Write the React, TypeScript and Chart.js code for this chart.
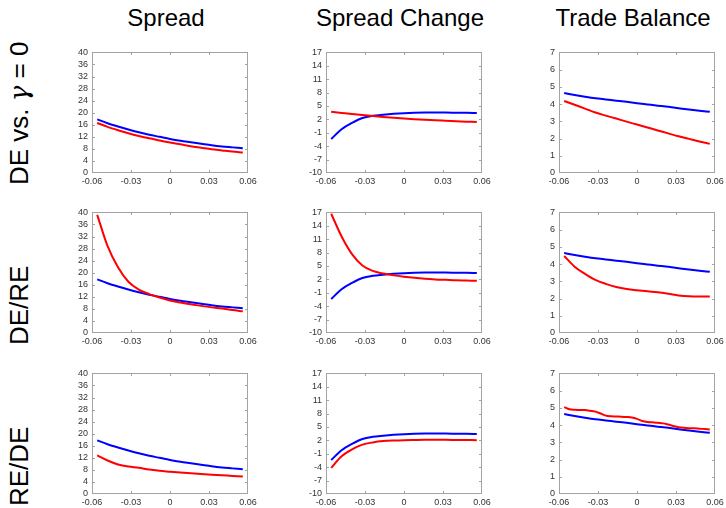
import React, { useEffect, useRef } from "react";
import { Chart, registerables } from "chart.js";

Chart.register(...registerables);

// ---------- data ----------
const colTitles = ["Spread", "Spread Change", "Trade Balance"];
const rowLabels = ["DE vs. ", "DE/RE", "RE/DE"];

const xGrid = [-0.056, -0.048, -0.04, -0.032, -0.024, -0.016, -0.008, 0, 0.008, 0.016, 0.024, 0.032, 0.04, 0.048, 0.056];
const xFine = [
  -0.056, -0.052, -0.048, -0.044, -0.04, -0.036, -0.032, -0.028, -0.024, -0.02, -0.016, -0.012, -0.008, -0.004, 0,
  0.004, 0.008, 0.012, 0.016, 0.02, 0.024, 0.028, 0.032, 0.036, 0.04, 0.044, 0.048, 0.052, 0.056,
];

const xTicks = [-0.06, -0.03, 0, 0.03, 0.06];
const xTickLabels = ["-0.06", "-0.03", "0", "0.03", "0.06"];
const spreadTicks = [0, 4, 8, 12, 16, 20, 24, 28, 32, 36, 40];
const changeTicks = [-10, -7, -4, -1, 2, 5, 8, 11, 14, 17];
const tradeTicks = [0, 1, 2, 3, 4, 5, 6, 7];

// blue (benchmark) series, identical in every row
const blueSpread = [17.8, 16.5, 15.4, 14.4, 13.5, 12.7, 12.0, 11.3, 10.7, 10.2, 9.7, 9.2, 8.8, 8.5, 8.2];
const blueChange = [-2.4, -0.2, 1.2, 2.3, 2.8, 3.05, 3.25, 3.4, 3.5, 3.55, 3.55, 3.53, 3.5, 3.47, 3.43];
const blueTrade = [4.64, 4.53, 4.43, 4.34, 4.27, 4.2, 4.13, 4.05, 3.98, 3.91, 3.84, 3.76, 3.68, 3.61, 3.55];

// red series, row 1: DE vs. gamma = 0
const redSpread1 = [16.6, 15.3, 14.2, 13.2, 12.3, 11.5, 10.8, 10.1, 9.5, 8.9, 8.4, 7.9, 7.5, 7.1, 6.8];
const redChange1 = [3.7, 3.45, 3.2, 2.97, 2.75, 2.55, 2.37, 2.2, 2.05, 1.92, 1.8, 1.7, 1.6, 1.5, 1.4];
const redTrade1 = [4.18, 3.96, 3.74, 3.51, 3.33, 3.16, 2.98, 2.81, 2.64, 2.47, 2.3, 2.13, 1.98, 1.83, 1.69];

// red series, row 2: DE/RE
const redSpread2 = [39.2, 28.8, 21.8, 17.0, 14.4, 12.9, 11.8, 10.8, 10.1, 9.5, 9.0, 8.5, 8.1, 7.6, 7.2];
const redChange2 = [16.7, 11.6, 7.65, 5.1, 3.9, 3.3, 2.9, 2.6, 2.35, 2.15, 2.0, 1.9, 1.8, 1.75, 1.7];
const redTrade2 = [4.47, 3.85, 3.43, 3.08, 2.85, 2.67, 2.55, 2.48, 2.43, 2.36, 2.28, 2.18, 2.13, 2.12, 2.12];

// red series, row 3: RE/DE
const redSpread3 = [12.8, 11.1, 9.8, 9.1, 8.7, 8.1, 7.7, 7.4, 7.1, 6.85, 6.6, 6.4, 6.2, 6.0, 5.8];
const redChange3 = [-4.15, -1.55, 0.0, 1.05, 1.55, 1.84, 1.98, 2.06, 2.1, 2.13, 2.13, 2.12, 2.1, 2.08, 2.06];
const redTrade3 = [
  5.04, 4.92, 4.89, 4.88, 4.87, 4.83, 4.78, 4.67, 4.55, 4.51, 4.5, 4.49, 4.47, 4.44, 4.36,
  4.24, 4.18, 4.16, 4.13, 4.1, 4.03, 3.95, 3.88, 3.84, 3.82, 3.81, 3.79, 3.77, 3.75,
];

// ---------- layout ----------
const colLefts = [92, 326, 559];
const rowTops = [49, 209, 370];
const PW = 156;
const PH = 124;
const PADL = 36;
const PADT = 6;
const PADR = 20;
const PADB = 18;

const TICK_FONT = { family: "'Liberation Sans', Arial, sans-serif", size: 9 };
const TICK_COLOR = "#333333";
const BOX_COLOR = "#a3a3a3";

const boxPlugin = {
  id: "boxTicks",
  afterDraw(chart: any) {
    const { ctx, chartArea, scales } = chart;
    const l = Math.round(chartArea.left);
    const r = Math.round(chartArea.right);
    const t = Math.round(chartArea.top);
    const b = Math.round(chartArea.bottom);
    ctx.save();
    ctx.strokeStyle = BOX_COLOR;
    ctx.lineWidth = 1;
    ctx.strokeRect(l + 0.5, t + 0.5, r - l - 1, b - t - 1);
    ctx.beginPath();
    const tl = 3;
    scales.x.ticks.forEach((tk: any) => {
      const px = Math.round(scales.x.getPixelForValue(tk.value)) + 0.5;
      if (px < l + 2 || px > r - 2) return;
      ctx.moveTo(px, b);
      ctx.lineTo(px, b - tl);
      ctx.moveTo(px, t);
      ctx.lineTo(px, t + tl);
    });
    scales.y.ticks.forEach((tk: any) => {
      const py = Math.round(scales.y.getPixelForValue(tk.value)) + 0.5;
      if (py < t + 2 || py > b - 2) return;
      ctx.moveTo(l, py);
      ctx.lineTo(l + tl, py);
      ctx.moveTo(r, py);
      ctx.lineTo(r - tl, py);
    });
    ctx.stroke();
    ctx.restore();
  },
};

type PanelProps = {
  left: number;
  top: number;
  yTicks: number[];
  blue: number[];
  red: number[];
  redX: number[];
};

function Panel({ left, top, yTicks, blue, red, redX }: PanelProps) {
  const ref = useRef<HTMLCanvasElement>(null);
  useEffect(() => {
    if (!ref.current) return;
    const chart = new Chart(ref.current, {
      type: "line",
      data: {
        datasets: [
          {
            data: red.map((y, i) => ({ x: redX[i], y })),
            borderColor: "#ff0000",
            backgroundColor: "#ff0000",
          },
          {
            data: blue.map((y, i) => ({ x: xGrid[i], y })),
            borderColor: "#0000ff",
            backgroundColor: "#0000ff",
          },
        ],
      },
      options: {
        animation: false,
        responsive: false,
        devicePixelRatio: 1,
        layout: { padding: { top: PADT, right: PADR, left: 0, bottom: 0 } },
        plugins: { legend: { display: false }, tooltip: { enabled: false } },
        elements: {
          point: { radius: 0 },
          line: { borderWidth: 2, cubicInterpolationMode: "monotone" },
        },
        scales: {
          x: {
            type: "linear",
            min: xTicks[0],
            max: xTicks[xTicks.length - 1],
            grid: { display: false, drawTicks: false },
            border: { display: false },
            afterBuildTicks: (s: any) => {
              s.ticks = xTicks.map((v) => ({ value: v }));
            },
            afterFit: (s: any) => {
              s.height = PADB;
            },
            ticks: {
              padding: 3,
              font: TICK_FONT,
              color: TICK_COLOR,
              maxRotation: 0,
              autoSkip: false,
              callback: (_v: any, i: number) => xTickLabels[i],
            },
          },
          y: {
            type: "linear",
            min: yTicks[0],
            max: yTicks[yTicks.length - 1],
            grid: { display: false, drawTicks: false },
            border: { display: false },
            afterBuildTicks: (s: any) => {
              s.ticks = yTicks.map((v) => ({ value: v }));
            },
            afterFit: (s: any) => {
              s.width = PADL;
            },
            ticks: {
              padding: 4,
              font: TICK_FONT,
              color: TICK_COLOR,
              autoSkip: false,
              callback: (_v: any, i: number) => String(yTicks[i]),
            },
          },
        },
      } as any,
      plugins: [boxPlugin],
    });
    return () => chart.destroy();
  }, []);
  const w = PW + PADL + PADR;
  const h = PH + PADT + PADB;
  return (
    <canvas
      ref={ref}
      width={w}
      height={h}
      style={{ position: "absolute", left: left - PADL, top: top - PADT, width: w, height: h }}
    />
  );
}

const panels = [
  [
    { yTicks: spreadTicks, blue: blueSpread, red: redSpread1, redX: xGrid },
    { yTicks: changeTicks, blue: blueChange, red: redChange1, redX: xGrid },
    { yTicks: tradeTicks, blue: blueTrade, red: redTrade1, redX: xGrid },
  ],
  [
    { yTicks: spreadTicks, blue: blueSpread, red: redSpread2, redX: xGrid },
    { yTicks: changeTicks, blue: blueChange, red: redChange2, redX: xGrid },
    { yTicks: tradeTicks, blue: blueTrade, red: redTrade2, redX: xGrid },
  ],
  [
    { yTicks: spreadTicks, blue: blueSpread, red: redSpread3, redX: xGrid },
    { yTicks: changeTicks, blue: blueChange, red: redChange3, redX: xGrid },
    { yTicks: tradeTicks, blue: blueTrade, red: redTrade3, redX: xFine },
  ],
];

const LABEL_FONT = "'Liberation Sans', Arial, sans-serif";

export default function App() {
  return (
    <div
      style={{
        position: "fixed",
        left: 0,
        top: 0,
        width: 726,
        height: 508,
        background: "#ffffff",
        overflow: "hidden",
        fontFamily: LABEL_FONT,
        color: "#000",
      }}
    >
      {colTitles.map((t, c) => (
        <div
          key={t}
          style={{
            position: "absolute",
            left: colLefts[c] + PW / 2 - 4 - 150,
            top: 6,
            width: 300,
            textAlign: "center",
            fontSize: 24,
            lineHeight: "24px",
            whiteSpace: "nowrap",
          }}
        >
          {t}
        </div>
      ))}
      {rowLabels.map((t, r) => (
        <div
          key={t}
          style={{
            position: "absolute",
            left: 6,
            top: rowTops[r] + PH + 12,
            fontSize: 26,
            lineHeight: "26px",
            whiteSpace: "nowrap",
            transformOrigin: "0 0",
            transform: "rotate(-90deg)",
          }}
        >
          {t}
          {r === 0 ? (
            <>
              <span style={{ fontFamily: "'DejaVu Serif', serif", fontStyle: "italic" }}>γ</span>
              {" = 0"}
            </>
          ) : null}
        </div>
      ))}
      {panels.map((row, r) =>
        row.map((p, c) => (
          <Panel
            key={`${r}-${c}`}
            left={colLefts[c]}
            top={rowTops[r]}
            yTicks={p.yTicks}
            blue={p.blue}
            red={p.red}
            redX={p.redX}
          />
        ))
      )}
    </div>
  );
}
